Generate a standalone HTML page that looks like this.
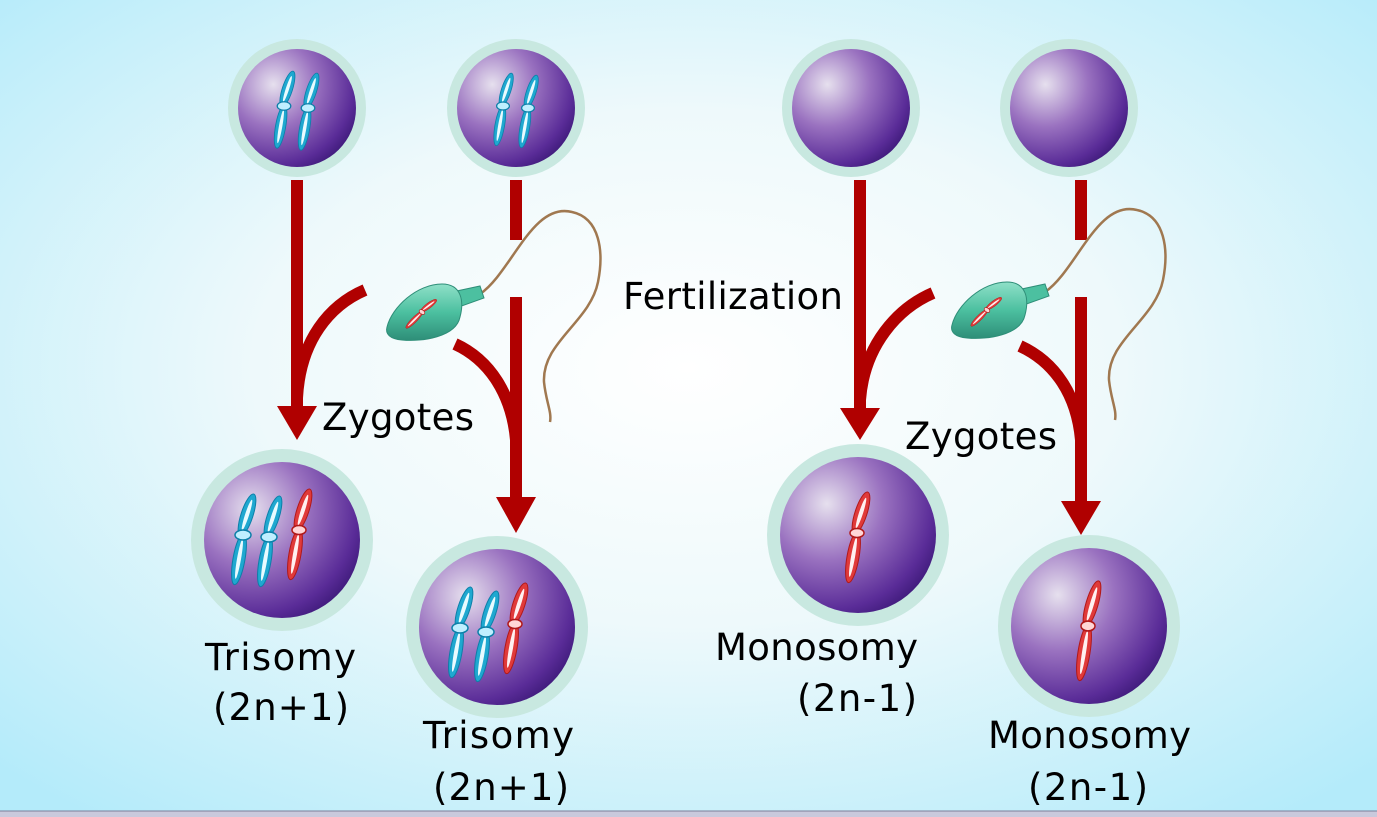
<!DOCTYPE html>
<html><head><meta charset="utf-8"><style>
html,body{margin:0;padding:0;width:1377px;height:817px;overflow:hidden}
svg{display:block}
text{font-family:"DejaVu Sans","Liberation Sans",sans-serif;font-size:37px;fill:#000}
</style></head><body>
<svg width="1377" height="817" viewBox="0 0 1377 817" xmlns="http://www.w3.org/2000/svg">
<defs>
<radialGradient id="bg" cx="0.5" cy="0.45" r="0.7">
<stop offset="0" stop-color="#ffffff"/><stop offset="0.45" stop-color="#eef9fb"/><stop offset="1" stop-color="#b4ebfa"/>
</radialGradient>
<radialGradient id="cell" cx="0.3" cy="0.3" r="0.8">
<stop offset="0" stop-color="#e6e0ee"/><stop offset="0.45" stop-color="#9a72c0"/><stop offset="0.85" stop-color="#5a2c98"/><stop offset="1" stop-color="#3e1a7a"/>
</radialGradient>
<linearGradient id="sp" x1="0" y1="0" x2="0" y2="1">
<stop offset="0" stop-color="#8fe0c8"/><stop offset="0.5" stop-color="#4cc0a0"/><stop offset="1" stop-color="#2e8e78"/>
</linearGradient>
<g id="cb">
<ellipse cx="4" cy="-20" rx="6" ry="22" transform="rotate(18 4 -20)" fill="#1fa8d0" stroke="#0c7fa8" stroke-width="1"/>
<ellipse cx="-4" cy="24" rx="6" ry="26" transform="rotate(10 -4 24)" fill="#1fa8d0" stroke="#0c7fa8" stroke-width="1"/>
<ellipse cx="4" cy="-20" rx="2" ry="16" transform="rotate(18 4 -20)" fill="#e8fbff"/>
<ellipse cx="-4" cy="24" rx="2" ry="20" transform="rotate(10 -4 24)" fill="#e8fbff"/>
<ellipse cx="0" cy="0" rx="8" ry="5" fill="#bfefff" stroke="#0c7fa8" stroke-width="1.5"/>
</g>
<g id="cr">
<ellipse cx="4" cy="-20" rx="6" ry="22" transform="rotate(18 4 -20)" fill="#e03a3a" stroke="#b01818" stroke-width="1"/>
<ellipse cx="-4" cy="24" rx="6" ry="26" transform="rotate(10 -4 24)" fill="#e03a3a" stroke="#b01818" stroke-width="1"/>
<ellipse cx="4" cy="-20" rx="2" ry="16" transform="rotate(18 4 -20)" fill="#fff0f0"/>
<ellipse cx="-4" cy="24" rx="2" ry="20" transform="rotate(10 -4 24)" fill="#fff0f0"/>
<ellipse cx="0" cy="0" rx="7" ry="4.5" fill="#ffd6d6" stroke="#b01818" stroke-width="1.5"/>
</g>
<g id="sperm">
<path d="M58,-18 C90,-40 110,-110 150,-100 C178,-94 182,-60 176,-30 C168,10 120,30 122,70 C124,90 130,100 128,110" fill="none" stroke="#a07850" stroke-width="2.5"/>
<path d="M30,-20 L58,-26 L62,-14 L34,-4 Z" fill="#4cc0a0" stroke="#2e8e78" stroke-width="1"/>
<path d="M-35,15 C-30,-5 -5,-28 20,-28 C40,-28 42,-10 38,5 C34,25 0,30 -20,28 C-32,27 -37,22 -35,15 Z" fill="url(#sp)" stroke="#2e8e78" stroke-width="1"/>
<g transform="translate(0,0) rotate(35) scale(0.45)"><use href="#cr"/></g>
</g>
</defs>
<rect width="1377" height="817" fill="url(#bg)"/>
<rect x="0" y="811" width="1377" height="6" fill="#c9c9dc"/>
<line x1="0" y1="811" x2="1377" y2="811" stroke="#7d7d99" stroke-width="1"/>

<g fill="#b00000" stroke="none">
<rect x="291" y="180" width="12" height="228"/>
<polygon points="277,406 317,406 297,440"/>
<rect x="510" y="180" width="12" height="60"/>
<rect x="510" y="297" width="12" height="202"/>
<polygon points="496,497 536,497 516,533"/>
<rect x="854" y="180" width="12" height="230"/>
<polygon points="840,408 880,408 860,440"/>
<rect x="1075" y="180" width="12" height="60"/>
<rect x="1075" y="297" width="12" height="206"/>
<polygon points="1061,501 1101,501 1081,535"/>
</g>
<g fill="none" stroke="#b00000" stroke-width="12">
<path d="M365,290 C330,305 300,340 297,398"/>
<path d="M455,344 C490,360 512,395 516,440"/>
<path d="M933,293 C898,308 864,345 860,400"/>
<path d="M1020,346 C1055,362 1077,395 1081,440"/>
</g>

<g>
<circle cx="297" cy="108" r="69" fill="#c8e8e0"/><circle cx="297" cy="108" r="59" fill="url(#cell)"/>
<use href="#cb" transform="translate(284,106) scale(0.85)"/><use href="#cb" transform="translate(308,108) scale(0.85)"/>
<circle cx="516" cy="108" r="69" fill="#c8e8e0"/><circle cx="516" cy="108" r="59" fill="url(#cell)"/>
<use href="#cb" transform="translate(503,106) scale(0.8)"/><use href="#cb" transform="translate(528,108) scale(0.8)"/>
<circle cx="851" cy="108" r="69" fill="#c8e8e0"/><circle cx="851" cy="108" r="59" fill="url(#cell)"/>
<circle cx="1069" cy="108" r="69" fill="#c8e8e0"/><circle cx="1069" cy="108" r="59" fill="url(#cell)"/>
</g>

<circle cx="282" cy="540" r="91" fill="#c8e8e0"/><circle cx="282" cy="540" r="78" fill="url(#cell)"/>
<use href="#cb" transform="translate(243,535)"/><use href="#cb" transform="translate(269,537)"/><use href="#cr" transform="translate(299,530)"/>
<circle cx="497" cy="627" r="91" fill="#c8e8e0"/><circle cx="497" cy="627" r="78" fill="url(#cell)"/>
<use href="#cb" transform="translate(460,628)"/><use href="#cb" transform="translate(486,632)"/><use href="#cr" transform="translate(515,624)"/>
<circle cx="858" cy="535" r="91" fill="#c8e8e0"/><circle cx="858" cy="535" r="78" fill="url(#cell)"/>
<use href="#cr" transform="translate(857,533)"/>
<circle cx="1089" cy="626" r="91" fill="#c8e8e0"/><circle cx="1089" cy="626" r="78" fill="url(#cell)"/>
<use href="#cr" transform="translate(1088,626) scale(1,1.1)"/>

<use href="#sperm" transform="translate(422,312)"/>
<use href="#sperm" transform="translate(987,310)"/>

<text x="623" y="309" textLength="220">Fertilization</text>
<text x="322" y="430" textLength="152">Zygotes</text>
<text x="905" y="449" textLength="152">Zygotes</text>
<text x="205" y="670" textLength="151">Trisomy</text>
<text x="213" y="720" textLength="136">(2n+1)</text>
<text x="423" y="748" textLength="151">Trisomy</text>
<text x="433" y="800" textLength="136">(2n+1)</text>
<text x="715" y="660" textLength="203">Monosomy</text>
<text x="797" y="711" textLength="120">(2n-1)</text>
<text x="988" y="748" textLength="203">Monosomy</text>
<text x="1028" y="800" textLength="120">(2n-1)</text>
</svg>
</body></html>
